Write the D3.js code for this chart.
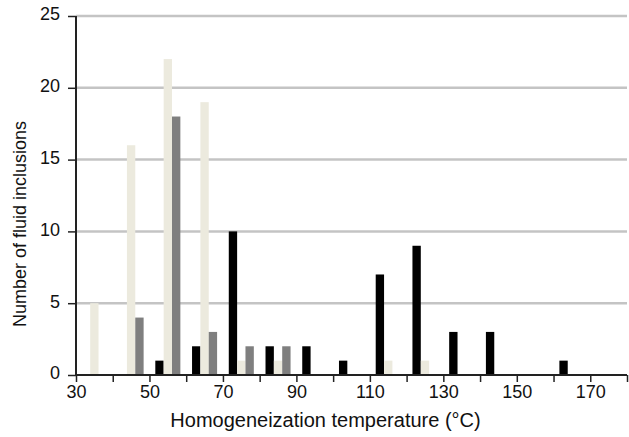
<!DOCTYPE html>
<html>
<head>
<meta charset="utf-8">
<script src="https://cdn.jsdelivr.net/npm/d3@7"></script>
<style>
  body { margin: 0; background: #fff; }
  text { font-family: "Liberation Sans", Arial, sans-serif; fill: #111; }
</style>
</head>
<body>
<div class="chart"></div>
<script>
// bin start temperatures (°C), each bin is 10 degrees wide
var bins = [30, 40, 50, 60, 70, 80, 90, 100, 110, 120, 130, 140, 150, 160, 170];
var blackVals = [0, 0, 1, 2, 10, 2, 2, 1, 7, 9, 3, 3, 0, 1, 0];
var lightVals = [5, 16, 22, 19, 1, 1, 0, 0, 1, 1, 0, 0, 0, 0, 0];
var grayVals  = [0, 4, 18, 3, 2, 2, 0, 0, 0, 0, 0, 0, 0, 0, 0];
var series = ['black', 'light', 'gray'];
var colors = { black: '#000000', light: '#ecEAde', gray: '#7f7f7f' };
var yTicks = [0, 5, 10, 15, 20, 25];
var xTicks = [30, 40, 50, 60, 70, 80, 90, 100, 110, 120, 130, 140, 150, 160, 170, 180];
var xLabels = [30, 50, 70, 90, 110, 130, 150, 170];

var W = 629, H = 437;
var margin = { top: 16, right: 2, bottom: 62, left: 76 };
var width = W - margin.left - margin.right;
var height = H - margin.top - margin.bottom;

var svg = d3.select('.chart')
  .append('svg')
  .attr('width', W)
  .attr('height', H)
  .append('g')
  .attr('transform', 'translate(' + margin.left + ',' + margin.top + ')');

var xScale = d3.scaleLinear().domain([30, 180]).range([0, width]);
var yScale = d3.scaleLinear().domain([0, 25]).range([height, 0]);
var sub = d3.scaleBand()
  .domain(series)
  .range([0, xScale(40) - xScale(30)])
  .paddingInner(0)
  .paddingOuter(0.7);

// gridlines
svg.selectAll('.grid')
  .data(yTicks.filter(d => d > 0))
  .enter()
  .append('line')
  .attr('class', 'grid')
  .attr('x1', 0)
  .attr('x2', width)
  .attr('y1', d => yScale(d))
  .attr('y2', d => yScale(d))
  .style('stroke', '#c4c4c4')
  .style('stroke-width', 2.5);

// bars
var rows = [];
bins.forEach((b, i) => {
  rows.push({ bin: b, key: 'black', v: blackVals[i] });
  rows.push({ bin: b, key: 'light', v: lightVals[i] });
  rows.push({ bin: b, key: 'gray', v: grayVals[i] });
});

svg.selectAll('.bar')
  .data(rows.filter(d => d.v > 0))
  .enter()
  .append('rect')
  .attr('class', 'bar')
  .attr('x', d => xScale(d.bin) + sub(d.key))
  .attr('width', sub.bandwidth())
  .attr('y', d => yScale(d.v))
  .attr('height', d => yScale(0) - yScale(d.v))
  .style('fill', d => colors[d.key]);

// x axis
var xAxis = svg.append('g')
  .attr('transform', `translate(0, ${height})`)
  .call(d3.axisBottom(xScale)
    .tickValues(xTicks)
    .tickSize(7)
    .tickFormat(d => xLabels.indexOf(d) >= 0 ? d : ''));
xAxis.select('.domain').attr('d', 'M0,0H' + width).style('stroke', '#222').style('stroke-width', 2);
xAxis.selectAll('.tick line').style('stroke', '#222').style('stroke-width', 1.5);
xAxis.selectAll('.tick text')
  .attr('y', 10)
  .style('font-size', '18px')
  .style('fill', '#111');

// y axis
var yAxis = svg.append('g')
  .call(d3.axisLeft(yScale)
    .tickValues(yTicks)
    .tickSize(8)
    .tickPadding(8));
yAxis.select('.domain').attr('d', 'M0,0V' + height).style('stroke', '#222').style('stroke-width', 2);
yAxis.selectAll('.tick line').style('stroke', '#222').style('stroke-width', 1.5);
yAxis.selectAll('.tick text')
  .attr('dy', '0.22em')
  .style('font-size', '18px')
  .style('fill', '#111');

// axis titles
svg.append('text')
  .attr('x', 325.5 - margin.left)
  .attr('y', 427 - margin.top)
  .style('text-anchor', 'middle')
  .style('font-size', '20px')
  .text('Homogeneization temperature (\u00B0C)');

svg.append('text')
  .attr('transform', 'translate(' + (26 - margin.left) + ',' + (224 - margin.top) + ') rotate(-90)')
  .style('text-anchor', 'middle')
  .style('font-size', '18px')
  .text('Number of fluid inclusions');
</script>
</body>
</html>
